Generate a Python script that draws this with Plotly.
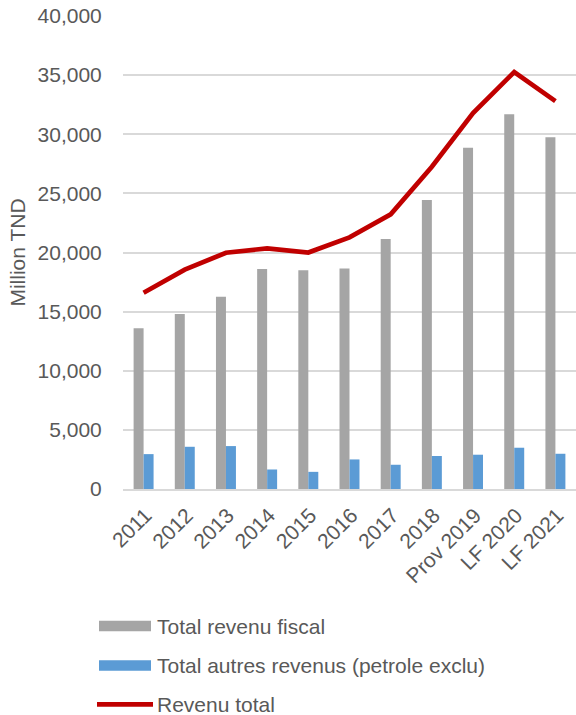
import plotly.graph_objects as go

# Revenue series, million TND
categories = ["2011", "2012", "2013", "2014", "2015", "2016", "2017", "2018",
              "Prov 2019", "LF 2020", "LF 2021"]
revenu_fiscal = [13600, 14800, 16250, 18600, 18500, 18650, 21150, 24450,
                 28850, 31700, 29750]
autres_revenus = [2950, 3570, 3630, 1650, 1450, 2500, 2050, 2790,
                  2900, 3490, 2980]
revenu_total = [16600, 18550, 19980, 20350, 20000, 21280, 23230, 27250,
                31800, 35260, 32800]
y_ticks = [0, 5000, 10000, 15000, 20000, 25000, 30000, 35000, 40000]

GRAY = "#A5A5A5"
BLUE = "#5B9BD5"
RED = "#C00000"
TEXT = "#595959"
FONT = "Liberation Sans, Arial, sans-serif"
FS = 21

W, H = 576, 715
M_L, M_R, M_T, M_B = 123, 0, 16, 226
PLOT_W = W - M_L - M_R
PLOT_H = H - M_T - M_B


def px_x(x):
    """Pixel x -> paper x."""
    return (x - M_L) / PLOT_W


def px_y(y):
    """Pixel y (from top) -> paper y."""
    return (H - M_B - y) / PLOT_H


fig = go.Figure()
fig.add_trace(go.Bar(x=categories, y=revenu_fiscal, name="Total revenu fiscal",
                     marker=dict(color=GRAY, line=dict(width=0))))
fig.add_trace(go.Bar(x=categories, y=autres_revenus,
                     name="Total autres revenus (petrole exclu)",
                     marker=dict(color=BLUE, line=dict(width=0))))
fig.add_trace(go.Scatter(x=categories, y=revenu_total, name="Revenu total",
                         mode="lines", line=dict(color=RED, width=4.7)))

fig.update_layout(
    width=W, height=H,
    margin=dict(l=M_L, r=M_R, t=M_T, b=M_B),
    paper_bgcolor="white", plot_bgcolor="white",
    barmode="group", bargap=0.515, bargroupgap=0,
    showlegend=False,
    font=dict(family=FONT, size=FS, color=TEXT),
)
fig.update_xaxes(
    type="category", tickangle=-45, showgrid=False,
    showline=True, linecolor="#D9D9D9", linewidth=1.5,
    ticks="", tickfont=dict(size=FS, color=TEXT),
    ticklabelstandoff=4, ticklabelshift=2,
)
fig.update_yaxes(
    range=[0, 40000], tickvals=y_ticks, tickformat=",",
    showgrid=True, gridcolor="#D9D9D9", gridwidth=1.5,
    zeroline=False, showline=False,
    ticks="outside", ticklen=16, tickcolor="rgba(0,0,0,0)",
    tickfont=dict(size=FS, color=TEXT),
    title=dict(text="Million TND", font=dict(size=FS, color=TEXT), standoff=6),
)

# Legend drawn below the chart
legend_items = [
    ("Total revenu fiscal", GRAY, "rect", 626),
    ("Total autres revenus (petrole exclu)", BLUE, "rect", 665.5),
    ("Revenu total", RED, "line", 704.3),
]
for label, color, kind, yc in legend_items:
    if kind == "rect":
        fig.add_shape(type="rect", xref="paper", yref="paper",
                      x0=px_x(99), x1=px_x(151),
                      y0=px_y(yc + 5.3), y1=px_y(yc - 5.3),
                      fillcolor=color, line=dict(width=0))
    else:
        fig.add_shape(type="line", xref="paper", yref="paper",
                      x0=px_x(97), x1=px_x(153),
                      y0=px_y(yc), y1=px_y(yc),
                      line=dict(color=color, width=4.7))
    fig.add_annotation(x=px_x(155), y=px_y(yc), xref="paper", yref="paper",
                       text=label, showarrow=False, xanchor="left",
                       yanchor="middle", font=dict(size=FS, color=TEXT))

fig.write_html("out.html")
